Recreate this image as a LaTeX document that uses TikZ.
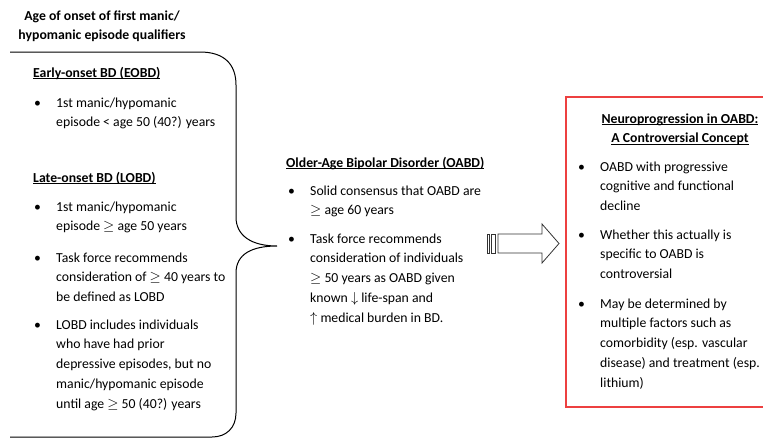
\documentclass[tikz,border=0pt]{standalone}
\usepackage{fontspec}
\setmainfont{Carlito}
\usepackage{amsmath,amssymb}

\definecolor{boxred}{RGB}{237,64,64}
\newcommand{\bul}[1]{\makebox[22pt][l]{\textbullet}\begin{tabular}[t]{@{}l@{}}#1\end{tabular}}
\newcommand{\hd}[1]{{\setbox0\hbox{#1}\rlap{\rule[-2pt]{\wd0}{0.8pt}}\box0}}

\begin{document}
\begin{tikzpicture}[x=1pt,y=-1pt,
	every node/.style={inner sep=0pt,font=\fontsize{13.75}{19.8}\selectfont},
	txt/.style={anchor=base west},
	hdr/.style={anchor=base west,font=\fontsize{13.75}{19.8}\selectfont\bfseries},
	brc/.style={line width=1pt},
	arr/.style={line width=0.8pt,draw=black!80}]
	\useasboundingbox (0,0) rectangle (763,439);
	% title and the brace round the two onset groups
	\node[hdr,anchor=base] (title) at (102,20)
		{\begin{tabular}[t]{@{}c@{}}Age of onset of first manic/\\hypomanic episode qualifiers\end{tabular}};
	\draw[brc] (10,52) -- (200,52) .. controls (224,52) and (236,64) .. (236,85) -- (236,217)
		.. controls (236,236) and (252,246) .. (277,246)
		.. controls (252,246) and (236,254) .. (236,273) -- (236,413)
		.. controls (236,428) and (226,437) .. (212,437) -- (10,437);
	% early onset
	\node[hdr] (eobd) at (33,77) {\hd{Early-onset BD (EOBD)}};
	\node[txt] (eobd1) at (34,107) {\bul{1st manic/hypomanic\\episode < age 50 (40?) years}};
	% late onset
	\node[hdr] (lobd) at (33,182) {\hd{Late-onset BD (LOBD)}};
	\node[txt] (lobd1) at (34,211) {\bul{1st manic/hypomanic\\episode $\geq$ age 50 years}};
	\node[txt] (lobd2) at (34,262) {\bul{Task force recommends\\consideration of $\geq$ 40 years to\\be defined as LOBD}};
	\node[txt] (lobd3) at (34,329) {\bul{LOBD includes individuals\\who have had prior\\depressive episodes, but no\\manic/hypomanic episode\\until age $\geq$ 50 (40?) years}};
	% older age
	\node[hdr] (oabd) at (286,167) {\hd{Older-Age Bipolar Disorder (OABD)}};
	\node[txt] (oabd1) at (288,195) {\bul{Solid consensus that OABD are\\$\geq$ age 60 years}};
	\node[txt] (oabd2) at (288,243) {\bul{Task force recommends\\consideration of individuals\\$\geq$ 50 years as OABD given\\known $\downarrow$ life-span and\\$\uparrow$ medical burden in BD.}};
	% striped arrow
	\draw[arr] (487,234) rectangle (489.5,253);
	\draw[arr] (491.5,234) rectangle (495,253);
	\draw[arr] (498,234) -- (542,234) -- (542,224) -- (559,243.5) -- (542,263) -- (542,253) -- (498,253) -- cycle;
	% neuroprogression box
	\draw[boxred,line width=1.5pt] (775,97) -- (566,97) -- (566,407) -- (775,407);
	\node[hdr,anchor=base] (np) at (680,123)
		{\begin{tabular}[t]{@{}c@{}}\hd{Neuroprogression in OABD:}\\\hd{A Controversial Concept}\end{tabular}};
	\node[txt] (np1) at (578,171) {\bul{OABD with progressive\\cognitive and functional\\decline}};
	\node[txt] (np2) at (578,239) {\bul{Whether this actually is\\specific to OABD is\\controversial}};
	\node[txt] (np3) at (578,308) {\bul{May be determined by\\multiple factors such as\\comorbidity (esp. vascular\\disease) and treatment (esp.\\lithium)}};
\end{tikzpicture}
\end{document}
